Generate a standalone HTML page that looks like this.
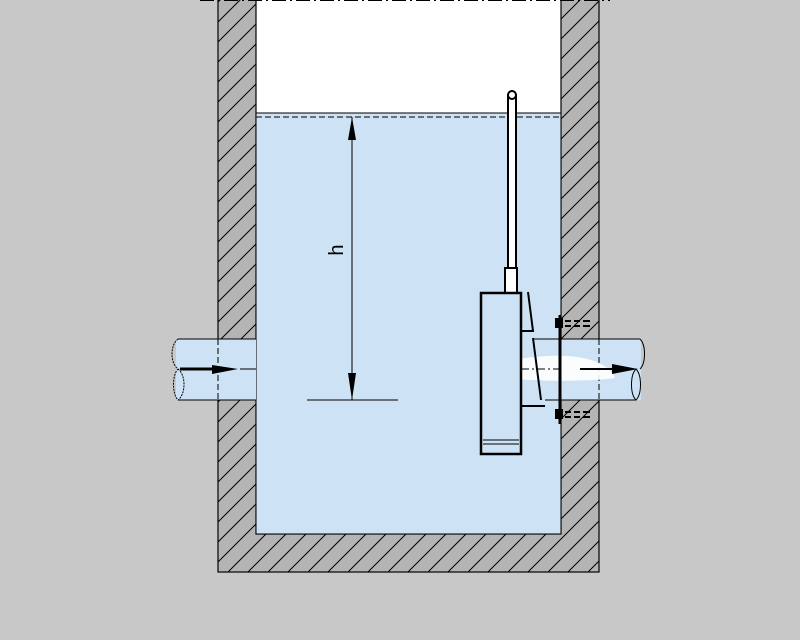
<!DOCTYPE html>
<html><head><meta charset="utf-8"><style>body{margin:0;background:#c8c8c8;overflow:hidden}</style></head><body>
<svg width="800" height="640" viewBox="0 0 800 640" xmlns="http://www.w3.org/2000/svg" style="display:block">
<defs>
<pattern id="h" patternUnits="userSpaceOnUse" width="20" height="20">
<rect width="20" height="20" fill="#b4b4b4"/>
<path d="M0 20L20 0M-2 2L2 -2M18 22L22 18" stroke="#000" stroke-width="1"/>
</pattern>
</defs>
<rect width="800" height="640" fill="#c8c8c8"/>
<rect x="218" y="-2" width="381" height="574" fill="url(#h)" stroke="#000" stroke-width="1.2"/>
<rect x="256" y="-2" width="305" height="536" fill="#fff" stroke="#000" stroke-width="1.2"/>
<rect x="256.6" y="113" width="303.8" height="420.4" fill="#cde2f5"/>
<g shape-rendering="crispEdges">
<line x1="256" y1="113" x2="561" y2="113" stroke="#000"/>
<line x1="256" y1="117" x2="561" y2="117" stroke="#000" stroke-dasharray="6,3"/>
</g>
<line x1="200" y1="0" x2="610" y2="0" stroke="#000" stroke-width="2" stroke-dasharray="14,4,2,4"/>
<!-- left pipe -->
<rect x="176" y="339" width="80" height="61" fill="#cde2f5"/>
<path d="M256 339H178M256 400H178M256 369H240" stroke="#000" fill="none" shape-rendering="crispEdges"/>
<path d="M178 339C170 345 170 363 178 369C172 375 172 394 178 400M178 369C186 375 186 394 178 400" stroke="#000" fill="none" stroke-dasharray="2,1"/>
<line x1="218" y1="339" x2="218" y2="400" stroke="#000" stroke-dasharray="6,3"/>
<path d="M180 369H212" stroke="#000" stroke-width="3"/>
<path d="M212 365L238 369L212 374Z" fill="#000"/>
<!-- right pipe -->
<rect x="561" y="339" width="80" height="61" fill="#cde2f5"/>
<path d="M533 339H640M545 400H636" stroke="#000" fill="none" shape-rendering="crispEdges"/>
<line x1="599" y1="339" x2="599" y2="400" stroke="#000" stroke-dasharray="6,3"/>
<path d="M640 339C646 345 646 363 640 369M636 369C630 375 630 394 636 400C642 394 642 375 636 369" stroke="#000" fill="none"/>
<path d="M483 368C520 355 600 345 615 378C590 382 520 382 483 375Z" fill="#fff" opacity="0.9"/>
<path d="M580 369H612" stroke="#000" stroke-width="2"/>
<path d="M612 364L638 369L612 374Z" fill="#000"/>
<!-- dim line -->
<line x1="352" y1="117" x2="352" y2="400" stroke="#000" shape-rendering="crispEdges"/>
<path d="M352 117L348 140H356Z M352 400L348 373H356Z" fill="#000"/>
<line x1="307" y1="400" x2="398" y2="400" stroke="#000" shape-rendering="crispEdges"/>
<text x="0" y="0" transform="translate(343,250) rotate(-90)" font-family="Liberation Sans, sans-serif" font-size="20" text-anchor="middle">h</text>
<!-- pump -->
<rect x="508" y="95" width="8" height="198" fill="#fff" stroke="#000" stroke-width="2"/>
<circle cx="512" cy="95" r="4" fill="#fff" stroke="#000" stroke-width="2"/>
<rect x="505" y="268" width="12" height="25" fill="#fff" stroke="#000" stroke-width="2"/>
<rect x="481" y="293" width="40" height="161" fill="#cde2f5" stroke="#000" stroke-width="2.5"/>
<path d="M483 440H519M483 444H519" stroke="#000"/>
<path d="M521 331H533L528 292M521 406H545M533 338L541 400" stroke="#000" stroke-width="2" fill="none"/>
<line x1="521" y1="369" x2="560" y2="369" stroke="#000" stroke-dasharray="8,3,2,3"/>
<line x1="560" y1="315" x2="560" y2="424" stroke="#000" stroke-width="3"/>
<g fill="#000"><rect x="555" y="318" width="8" height="10"/><rect x="555" y="409" width="8" height="10"/></g>
<path d="M565 321H571M574 321H580M583 321H590M565 326H571M574 326H580M583 326H590M565 412H571M574 412H580M583 412H590M565 417H571M574 417H580M583 417H590" stroke="#000" stroke-width="2"/>
</svg>
</body></html>
